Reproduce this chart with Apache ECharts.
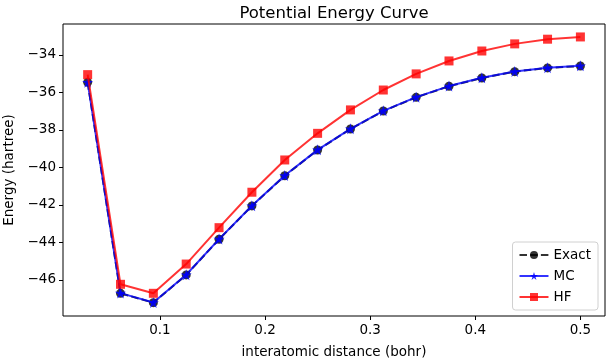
<!DOCTYPE html>
<html><head><meta charset="utf-8">
<script src="https://cdn.jsdelivr.net/npm/echarts@6/dist/echarts.min.js"></script>
<style>html,body{margin:0;padding:0;background:#fff}#c{width:609px;height:360px}</style>
</head><body><div id="c"></div>
<script>
const distances = [0.03125,0.0625,0.09375,0.125,0.15625,0.1875,0.21875,0.25,0.28125,0.3125,0.34375,0.375,0.40625,0.4375,0.46875,0.5];
const exactE = [-35.46,-46.71,-47.21,-45.73,-43.83,-42.05,-40.44,-39.07,-37.95,-36.99,-36.26,-35.67,-35.23,-34.89,-34.69,-34.59];
const mcE    = [-35.46,-46.70,-47.20,-45.72,-43.82,-42.04,-40.43,-39.06,-37.94,-36.98,-36.25,-35.66,-35.22,-34.88,-34.68,-34.58];
const hfE    = [-35.05,-46.23,-46.71,-45.15,-43.21,-41.32,-39.60,-38.18,-36.93,-35.87,-35.01,-34.32,-33.79,-33.41,-33.16,-33.04];
const xTicks = [0.1,0.2,0.3,0.4,0.5];
const yTicks = [-46,-44,-42,-40,-38,-36,-34];

const font = 'DejaVu Sans';
const pair = arr => distances.map((d,i)=>[d,arr[i]]);
const starPath = 'path://M50,0 L61.8,35.3 L100,35.3 L69.1,57.1 L80.9,92.7 L50,70.9 L19.1,92.7 L30.9,57.1 L0,35.3 L38.2,35.3 Z';

const chart = echarts.init(document.getElementById('c'), null, {renderer:'canvas'});
chart.setOption({
  animation:false,
  backgroundColor:'#fff',
  title:{text:'Potential Energy Curve',left:329,textAlign:'center',top:0,
    textStyle:{fontFamily:font,fontSize:16.5,fontWeight:'normal',color:'#000'}},
  grid:{left:63,right:4,top:24,bottom:44,show:true,borderColor:'#000',borderWidth:1,backgroundColor:'transparent',
    containLabel:false,outerBoundsMode:'none'},
  legend:{orient:'vertical',right:11,top:242,padding:[6,7,6,6],itemGap:7,itemWidth:29,itemHeight:10,
    backgroundColor:'rgba(255,255,255,0.8)',borderColor:'#d0d0d0',borderWidth:1,borderRadius:3,
    textStyle:{fontFamily:font,fontSize:13.5,color:'#000'},
    data:['Exact','MC','HF']},
  xAxis:{type:'value',min:0.0078,max:0.5234,
    name:'interatomic distance (bohr)',nameLocation:'middle',nameGap:29,
    nameTextStyle:{fontFamily:font,fontSize:13.5,color:'#000'},
    axisLine:{show:false},splitLine:{show:false},
    axisTick:{show:true,inside:false,length:4,lineStyle:{color:'#000',width:1},customValues:xTicks},
    axisLabel:{fontFamily:font,fontSize:13.5,color:'#000',margin:7,customValues:xTicks,
      formatter:v=>String(Math.round(v*10)/10)}},
  yAxis:{type:'value',min:-47.92,max:-32.35,
    name:'Energy (hartree)',nameLocation:'middle',nameGap:45,nameRotate:90,
    nameTextStyle:{fontFamily:font,fontSize:13.5,color:'#000'},
    axisLine:{show:false},splitLine:{show:false},
    axisTick:{show:true,inside:false,length:4,lineStyle:{color:'#000',width:1},customValues:yTicks},
    axisLabel:{fontFamily:font,fontSize:13.5,color:'#000',margin:7,customValues:yTicks,
      formatter:v=>String(Math.round(v)).replace('-','\u2212')}},
  series:[
    {name:'Exact',type:'line',data:pair(exactE),symbol:'circle',symbolSize:9,
      lineStyle:{color:'rgba(0,0,0,0.8)',width:2,type:[7.5,3.2]},
      itemStyle:{color:'rgba(0,0,0,0.8)'},z:2},
    {name:'MC',type:'line',data:pair(mcE),symbol:starPath,symbolSize:11,
      lineStyle:{color:'rgba(0,0,255,0.8)',width:2},
      itemStyle:{color:'rgba(0,0,255,0.85)'},z:3},
    {name:'HF',type:'line',data:pair(hfE),symbol:'rect',symbolSize:9,
      lineStyle:{color:'rgba(255,0,0,0.8)',width:2},
      itemStyle:{color:'rgba(255,0,0,0.8)'},z:4}
  ]
});
</script></body></html>
